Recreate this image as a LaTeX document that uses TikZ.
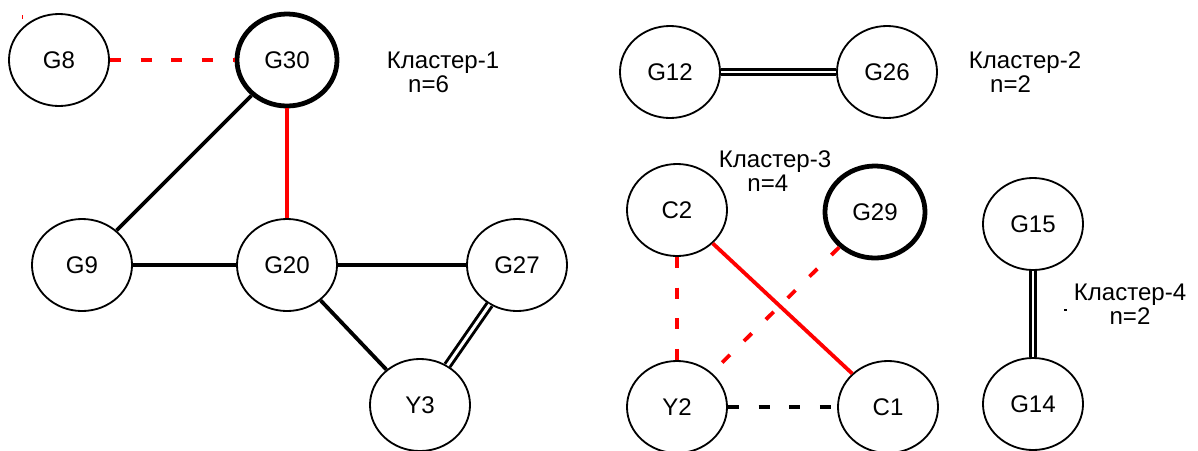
\documentclass[tikz,border=0pt]{standalone}
\usepackage{fontspec}
\setmainfont{Liberation Sans}
\usetikzlibrary{shapes.geometric}

\begin{document}
\begin{tikzpicture}[x=0.025cm, y=-0.025cm,
    every node/.style={font=\fontsize{17.1}{20}\selectfont},
    vertex/.style={ellipse, draw, line width=1.3pt, minimum width=2.5cm, minimum height=2.3cm, inner sep=0pt},
    hub/.style={vertex, line width=3.4pt},
    link/.style={line width=2.7pt},
    redlink/.style={link, red},
    gapped/.style={dash pattern=on 7.8pt off 14pt},
    twin/.style={double, line width=2.1pt, double distance=2.1pt}]
    \useasboundingbox (0,0) rectangle (1198,450);
    % the vertices of the first group
    \node[vertex] (g8) at (59,60) {G8};
    \node[hub] (g30) at (287,60) {G30};
    \node[vertex] (g9) at (82,265) {G9};
    \node[vertex] (g20) at (287,265) {G20};
    \node[vertex] (g27) at (517,265) {G27};
    \node[vertex] (y3) at (420,405) {Y3};
    % the other groups
    \node[vertex] (g12) at (670,72) {G12};
    \node[vertex] (g26) at (887,72) {G26};
    \node[vertex] (c2) at (677,210) {C2};
    \node[hub] (g29) at (875,212) {G29};
    \node[vertex] (y2) at (677,407) {Y2};
    \node[vertex] (c1) at (888,407) {C1};
    \node[vertex] (g15) at (1033,224) {G15};
    \node[vertex] (g14) at (1033,404) {G14};
    % the texts
    \node[align=center] (lab1) at (443,72) {Кластер-1\\[-3pt]\hspace*{-1.2em}n=6};
    \node[align=center] (lab2) at (1025,72) {Кластер-2\\[-3pt]\hspace*{-1.2em}n=2};
    \node[align=center] (lab3) at (775,171) {Кластер-3\\[-3pt]\hspace*{-0.6em}n=4};
    \node[align=center] (lab4) at (1130,304) {Кластер-4\\[-3pt]n=2};
    % draw the edges
    \draw[redlink, gapped] (g8) -- (g30);
    \draw[redlink] (g30) -- (g20);
    \draw[link] (g30) -- (g9);
    \draw[link] (g9) -- (g20);
    \draw[link] (g20) -- (g27);
    \draw[link] (g20) -- (y3);
    \draw[twin] (g27) -- (y3);
    \draw[twin] (g12) -- (g26);
    \draw[redlink, gapped] (c2) -- (y2);
    \draw[redlink] (c2) -- (c1);
    \draw[redlink, gapped] (g29) -- (y2);
    \draw[link, gapped] (y2) -- (c1);
    \draw[twin] (g15) -- (g14);
    % stray marks
    \draw[red, line width=0.8pt] (22.5,15) -- (22.5,19);
    \draw[line width=0.8pt] (1064,310) -- (1067,310);
\end{tikzpicture}
\end{document}
